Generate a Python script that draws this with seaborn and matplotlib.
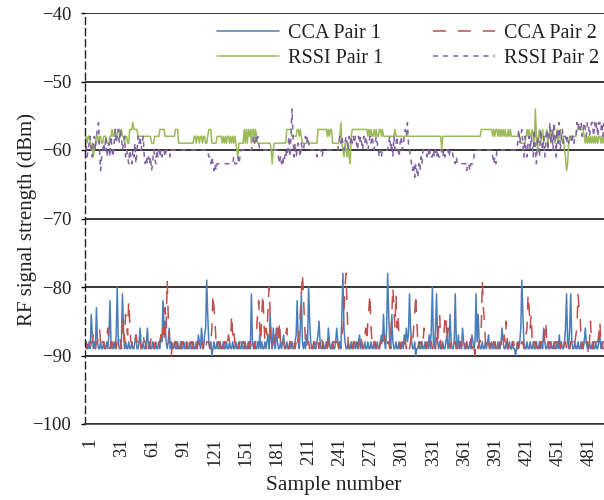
import matplotlib
matplotlib.use("Agg")
import matplotlib.pyplot as plt
import matplotlib.transforms as mtransforms
import numpy as np
import pandas as pd
import seaborn as sns

# ---------------- data (500 samples each) ----------------
cca_pair1 = [
    -89,-88,-89,-89,-88,-89,-84,-87,-89,-88,-89,-83,-88,-89,-89,-88,-89,-89,-88,-89,
    -89,-88,-89,-87,-82,-88,-89,-89,-88,-89,-87,-80,-88,-89,-89,-88,-81,-86,-89,-88,
    -89,-89,-88,-89,-89,-88,-89,-89,-88,-87,-89,-89,-88,-86,-89,-89,-88,-89,-89,-88,
    -86,-89,-88,-89,-89,-88,-89,-89,-88,-89,-89,-88,-89,-87,-88,-82,-86,-85,-88,-89,
    -88,-86,-89,-88,-89,-89,-88,-89,-89,-88,-89,-89,-88,-89,-89,-88,-89,-89,-88,-89,
    -89,-88,-89,-89,-88,-89,-89,-88,-89,-87,-88,-89,-86,-88,-89,-87,-86,-79,-84,-88,
    -89,-88,-90,-89,-88,-89,-89,-88,-89,-89,-88,-89,-89,-88,-89,-89,-88,-89,-89,-88,
    -89,-89,-88,-89,-89,-88,-89,-89,-88,-89,-89,-88,-89,-89,-88,-89,-89,-88,-89,-89,
    -81,-88,-89,-88,-89,-89,-88,-89,-87,-89,-88,-89,-89,-88,-89,-88,-87,-89,-84,-88,
    -89,-86,-88,-89,-86,-88,-89,-89,-88,-89,-88,-87,-89,-89,-88,-89,-89,-88,-89,-88,
    -89,-89,-88,-87,-82,-88,-89,-86,-81,-88,-89,-88,-89,-87,-88,-80,-85,-88,-89,-89,
    -88,-89,-89,-88,-87,-85,-88,-89,-89,-88,-89,-89,-88,-89,-86,-88,-89,-89,-88,-89,
    -89,-88,-86,-88,-89,-88,-89,-84,-78,-86,-88,-89,-89,-88,-89,-89,-88,-89,-89,-88,
    -89,-88,-89,-88,-87,-89,-88,-89,-89,-88,-89,-89,-88,-89,-89,-88,-89,-89,-88,-89,
    -89,-88,-89,-89,-88,-87,-88,-84,-88,-89,-86,-78,-84,-88,-89,-84,-88,-89,-89,-88,
    -89,-89,-88,-89,-89,-88,-89,-87,-88,-86,-88,-87,-81,-86,-88,-89,-89,-88,-90,-89,
    -89,-88,-89,-89,-88,-89,-89,-88,-89,-88,-89,-87,-89,-86,-80,-88,-89,-86,-81,-88,
    -89,-88,-89,-89,-88,-89,-89,-88,-87,-89,-88,-84,-88,-89,-89,-88,-81,-88,-89,-87,
    -89,-88,-89,-86,-88,-89,-89,-88,-89,-89,-88,-89,-87,-88,-89,-88,-81,-88,-84,-88,
    -89,-89,-88,-89,-89,-88,-89,-88,-87,-89,-89,-88,-89,-89,-88,-89,-89,-88,-89,-89,
    -88,-86,-88,-89,-89,-88,-89,-89,-88,-89,-89,-88,-89,-89,-90,-89,-88,-89,-88,-86,
    -79,-84,-88,-89,-89,-88,-89,-89,-88,-89,-89,-88,-89,-89,-88,-89,-89,-88,-89,-88,
    -89,-86,-88,-89,-89,-88,-89,-89,-88,-89,-89,-88,-89,-89,-88,-89,-87,-89,-88,-89,
    -89,-88,-86,-81,-88,-89,-86,-81,-88,-89,-89,-88,-89,-89,-88,-89,-89,-88,-89,-89,
    -88,-86,-88,-89,-89,-88,-89,-89,-88,-89,-89,-88,-89,-89,-88,-87,-89,-88,-89,-89,
]

cca_pair2 = [
    -88,-88,-89,-88,-88,-89,-88,-88,-87,-88,-89,-88,-88,-87,-86,-88,-89,-88,-88,-89,
    -88,-87,-86,-88,-89,-88,-88,-89,-88,-88,-89,-88,-88,-87,-88,-89,-86,-85,-88,-84,
    -86,-87,-82,-85,-88,-88,-89,-88,-88,-87,-88,-89,-88,-88,-89,-88,-87,-88,-88,-89,
    -88,-88,-89,-88,-87,-88,-88,-89,-88,-88,-89,-88,-88,-87,-88,-86,-88,-83,-86,-79,
    -84,-88,-89,-90,-88,-88,-89,-88,-88,-89,-88,-88,-89,-88,-88,-89,-88,-88,-89,-88,
    -88,-89,-88,-88,-89,-88,-88,-89,-88,-88,-89,-88,-88,-89,-88,-88,-89,-88,-88,-88,
    -89,-88,-86,-81,-83,-85,-88,-89,-88,-88,-89,-88,-88,-89,-88,-88,-89,-88,-87,-88,
    -88,-84,-87,-86,-88,-89,-88,-88,-89,-88,-88,-89,-88,-88,-89,-88,-88,-89,-88,-88,
    -89,-88,-88,-89,-88,-86,-84,-82,-86,-88,-84,-81,-85,-88,-86,-87,-83,-80,-84,-88,
    -89,-88,-88,-87,-88,-86,-88,-85,-88,-89,-88,-88,-89,-87,-86,-88,-89,-88,-88,-89,
    -88,-88,-89,-88,-87,-88,-86,-84,-81,-78,-81,-85,-88,-89,-88,-88,-89,-88,-88,-89,
    -88,-88,-89,-88,-88,-89,-88,-87,-88,-89,-88,-88,-89,-88,-88,-89,-88,-88,-89,-88,
    -88,-89,-88,-88,-89,-88,-88,-87,-86,-84,-80,-78,-83,-88,-89,-88,-88,-89,-88,-88,
    -89,-88,-88,-89,-88,-87,-88,-89,-88,-87,-86,-88,-85,-83,-81,-86,-88,-89,-88,-88,
    -89,-88,-88,-89,-88,-88,-89,-88,-87,-88,-89,-88,-88,-89,-87,-84,-80,-83,-86,-81,
    -86,-84,-88,-89,-88,-88,-89,-88,-88,-89,-88,-88,-89,-88,-87,-88,-86,-84,-81,-85,
    -88,-89,-88,-88,-89,-88,-86,-88,-89,-88,-88,-89,-88,-88,-89,-88,-88,-89,-87,-88,
    -86,-84,-88,-89,-88,-87,-85,-84,-88,-86,-88,-89,-88,-88,-89,-88,-88,-89,-88,-88,
    -89,-88,-88,-89,-88,-88,-89,-88,-88,-87,-87,-88,-89,-88,-89,-90,-88,-88,-89,-88,
    -88,-86,-79,-83,-85,-88,-89,-88,-88,-89,-88,-88,-89,-88,-88,-89,-88,-88,-89,-88,
    -88,-89,-88,-87,-88,-85,-88,-89,-88,-88,-89,-88,-88,-89,-88,-88,-89,-88,-88,-89,
    -88,-88,-89,-88,-87,-86,-81,-83,-86,-84,-88,-89,-88,-88,-89,-88,-88,-89,-88,-88,
    -89,-88,-87,-85,-88,-89,-88,-88,-89,-88,-88,-89,-88,-88,-89,-88,-88,-89,-88,-88,
    -89,-88,-88,-89,-88,-88,-89,-88,-88,-89,-88,-88,-87,-86,-81,-83,-84,-88,-89,-88,
    -88,-89,-88,-88,-90,-88,-85,-88,-89,-88,-88,-89,-88,-88,-87,-85,-88,-89,-88,-88,
]

rssi_pair1 = [
    -59,-58,-59,-58,-58,-59,-60,-59,-61,-60,-59,-58,-58,-59,-58,-58,-59,-59,-58,-58,
    -58,-59,-59,-59,-58,-58,-57,-58,-58,-57,-58,-58,-57,-57,-58,-57,-58,-58,-59,-58,
    -58,-59,-59,-57,-57,-57,-56,-57,-57,-57,-57,-58,-58,-58,-58,-58,-58,-58,-58,-58,
    -58,-58,-58,-58,-59,-59,-59,-58,-58,-58,-58,-58,-57,-57,-57,-57,-57,-58,-58,-58,
    -58,-58,-58,-58,-58,-58,-58,-57,-57,-57,-59,-59,-59,-59,-59,-59,-59,-59,-59,-59,
    -59,-59,-59,-59,-59,-58,-58,-59,-58,-58,-59,-58,-58,-59,-58,-58,-59,-59,-58,-57,
    -57,-57,-59,-59,-59,-59,-59,-58,-58,-58,-58,-58,-59,-58,-59,-58,-59,-58,-58,-59,
    -58,-59,-58,-59,-58,-59,-60,-61,-59,-59,-59,-59,-59,-57,-59,-57,-59,-57,-58,-57,
    -59,-57,-57,-59,-57,-58,-59,-59,-59,-59,-59,-59,-59,-59,-59,-59,-59,-59,-59,-60,
    -62,-60,-59,-59,-59,-59,-59,-59,-59,-59,-59,-59,-59,-59,-57,-57,-57,-57,-57,-58,
    -58,-58,-58,-58,-57,-57,-58,-57,-58,-59,-59,-59,-59,-59,-59,-59,-59,-59,-59,-59,
    -59,-59,-59,-59,-57,-57,-57,-57,-57,-57,-57,-57,-57,-58,-57,-58,-57,-57,-59,-59,
    -59,-59,-59,-59,-59,-58,-56,-59,-60,-61,-59,-60,-61,-59,-61,-62,-58,-57,-57,-57,
    -57,-57,-57,-57,-57,-57,-57,-57,-57,-57,-57,-57,-58,-57,-58,-57,-58,-58,-57,-58,
    -57,-58,-58,-57,-57,-58,-57,-58,-58,-58,-58,-58,-58,-58,-58,-58,-58,-58,-57,-58,
    -58,-58,-58,-58,-58,-58,-58,-58,-58,-58,-58,-58,-58,-58,-58,-58,-58,-58,-58,-58,
    -58,-58,-58,-58,-58,-58,-58,-58,-58,-58,-58,-58,-58,-58,-58,-58,-58,-58,-58,-58,
    -58,-58,-58,-60,-58,-58,-58,-58,-58,-58,-58,-58,-58,-58,-58,-58,-58,-58,-58,-58,
    -58,-58,-58,-58,-58,-58,-58,-58,-58,-58,-58,-58,-58,-58,-58,-58,-58,-58,-58,-58,
    -58,-57,-57,-57,-57,-57,-57,-57,-57,-57,-57,-57,-58,-57,-58,-57,-57,-58,-57,-58,
    -57,-58,-57,-58,-57,-58,-58,-57,-58,-57,-58,-58,-58,-58,-58,-58,-58,-58,-58,-59,
    -59,-59,-59,-59,-58,-57,-58,-57,-58,-58,-57,-58,-59,-54,-58,-60,-58,-57,-59,-58,
    -57,-59,-58,-58,-57,-59,-58,-57,-59,-58,-57,-58,-59,-58,-57,-59,-58,-57,-58,-59,
    -58,-60,-61,-63,-62,-59,-58,-58,-58,-58,-58,-58,-58,-57,-57,-57,-57,-57,-57,-57,
    -58,-59,-58,-59,-58,-59,-58,-59,-58,-59,-58,-59,-58,-59,-58,-58,-59,-58,-59,-58,
]

rssi_pair2 = [
    -60,-59,-61,-60,-59,-58,-60,-61,-59,-58,-60,-58,-57,-56,-60,-63,-61,-60,-59,-60,
    -58,-61,-60,-59,-61,-58,-60,-61,-59,-57,-59,-58,-57,-59,-57,-58,-60,-59,-58,-61,
    -60,-61,-62,-60,-61,-62,-60,-61,-59,-62,-60,-58,-59,-58,-60,-59,-58,-61,-62,-61,
    -62,-61,-62,-61,-63,-62,-60,-61,-62,-60,-61,-60,-61,-60,-61,-60,-60,-61,-60,-60,
    -60,-60,-61,-60,-60,-60,-60,-60,-60,-60,-60,-60,-60,-60,-60,-60,-60,-60,-60,-60,
    -60,-60,-60,-60,-60,-60,-60,-60,-60,-60,-60,-60,-60,-60,-60,-60,-60,-60,-60,-61,
    -61,-62,-61,-62,-63,-62,-63,-62,-62,-62,-62,-62,-62,-62,-62,-62,-62,-62,-62,-62,
    -62,-62,-62,-61,-62,-62,-62,-61,-62,-61,-60,-60,-60,-60,-60,-60,-60,-60,-60,-60,
    -60,-59,-58,-59,-58,-59,-58,-59,-60,-60,-60,-60,-60,-60,-60,-60,-60,-60,-60,-60,
    -60,-60,-60,-60,-60,-60,-61,-62,-61,-62,-61,-62,-61,-60,-61,-60,-58,-61,-58,-54,
    -58,-61,-59,-61,-60,-59,-60,-61,-59,-60,-60,-59,-58,-59,-58,-59,-60,-60,-60,-60,
    -60,-60,-60,-61,-60,-60,-60,-60,-61,-60,-60,-60,-60,-60,-60,-60,-60,-60,-60,-60,
    -60,-60,-60,-60,-59,-58,-59,-58,-59,-60,-59,-58,-59,-60,-58,-59,-58,-59,-58,-59,
    -58,-59,-60,-58,-59,-58,-59,-60,-58,-59,-58,-59,-60,-59,-58,-59,-58,-59,-60,-59,
    -58,-59,-60,-61,-60,-61,-60,-60,-60,-60,-60,-60,-59,-58,-60,-59,-61,-58,-60,-59,
    -58,-60,-61,-59,-58,-60,-59,-58,-57,-58,-56,-59,-60,-61,-62,-63,-62,-64,-62,-63,
    -64,-62,-63,-61,-62,-60,-60,-60,-60,-61,-60,-61,-60,-61,-61,-60,-61,-60,-61,-60,
    -61,-61,-60,-60,-61,-60,-61,-60,-60,-60,-61,-60,-60,-60,-61,-61,-62,-61,-62,-62,
    -62,-62,-62,-62,-62,-62,-62,-63,-62,-62,-63,-62,-62,-62,-61,-60,-60,-60,-60,-60,
    -60,-60,-60,-60,-60,-60,-60,-60,-60,-60,-60,-60,-61,-62,-61,-62,-60,-60,-60,-60,
    -60,-60,-60,-60,-60,-60,-60,-60,-60,-60,-60,-60,-60,-60,-60,-60,-59,-57,-59,-58,
    -57,-59,-61,-58,-60,-61,-59,-58,-60,-58,-59,-61,-57,-60,-62,-58,-59,-61,-57,-59,
    -60,-58,-61,-59,-57,-60,-58,-56,-59,-57,-60,-56,-58,-61,-57,-59,-56,-60,-58,-57,
    -59,-58,-58,-59,-58,-59,-58,-58,-59,-58,-59,-58,-58,-56,-57,-56,-57,-56,-58,-57,
    -56,-57,-58,-56,-56,-58,-57,-56,-56,-58,-56,-57,-56,-58,-56,-56,-57,-56,-58,-56,
]

series_names = ["CCA Pair 1", "CCA Pair 2", "RSSI Pair 1", "RSSI Pair 2"]
y_ticks = [-100, -90, -80, -70, -60, -50, -40]
x_ticks = list(range(1, 500, 30))

# ---------------- build long table ----------------
samples = np.arange(1, len(cca_pair1) + 1)
frames = []
for name, vals in zip(series_names, [cca_pair1, cca_pair2, rssi_pair1, rssi_pair2]):
    frames.append(pd.DataFrame({"Sample": samples[:len(vals)], "dBm": vals, "Series": name}))
df = pd.concat(frames, ignore_index=True)

# ---------------- style ----------------
sns.set_theme(style="white")
plt.rcParams["font.family"] = ["Liberation Serif", "DejaVu Serif"]
plt.rcParams["axes.unicode_minus"] = True

palette = {"CCA Pair 1": "#4A7EBB", "CCA Pair 2": "#C0504D",
           "RSSI Pair 1": "#9BBB59", "RSSI Pair 2": "#8064A2"}
dashes = {"CCA Pair 1": "", "CCA Pair 2": (8.5, 7.8),
          "RSSI Pair 1": "", "RSSI Pair 2": (3.3, 3.3)}

fig = plt.figure(figsize=(6.04, 5.00), dpi=100)
ax = fig.add_axes([85 / 604, 76 / 500, 519 / 604, 411 / 500])

sns.lineplot(data=df, x="Sample", y="dBm", hue="Series", style="Series",
             hue_order=series_names, style_order=series_names,
             palette=palette, dashes=dashes, linewidth=1.1, ax=ax,
             legend=True, estimator=None)

ax.set_xlim(1, 500)
ax.set_ylim(-100, -40)
ax.set_yticks(y_ticks)
ax.set_xticks(x_ticks)
ax.set_xticklabels([str(t) for t in x_ticks], rotation=90)

ax.set_axisbelow(True)
ax.yaxis.grid(True, color="black", linewidth=1.1)
ax.xaxis.grid(False)

for s in ["top", "right"]:
    ax.spines[s].set_visible(False)
ax.spines["bottom"].set_color("#333333")
ax.spines["bottom"].set_linewidth(1.1)
ax.spines["left"].set_color("#222222")
ax.spines["left"].set_linewidth(1.0)
ax.spines["left"].set_linestyle((0, (5, 3)))

ax.tick_params(axis="y", which="major", left=True, length=3, width=1.0,
               color="black", pad=7, labelsize=13.5, labelcolor="#222222")
ax.tick_params(axis="x", which="major", bottom=False, length=0, pad=10,
               labelsize=13.5, labelcolor="#222222")

offset = mtransforms.ScaledTranslation(5 / 100, 0, fig.dpi_scale_trans)
for lab in ax.get_xticklabels():
    lab.set_transform(lab.get_transform() + offset)

ax.set_xlabel("Sample number", fontsize=15.5, color="#222222")
ax.set_ylabel("RF signal strength (dBm)", fontsize=15, color="#222222")
ax.xaxis.set_label_coords((334 - 85) / 519, (424 - 476) / 411)
ax.yaxis.set_label_coords((37 - 85) / 519, (424 - 220) / 411)

handles, labels = ax.get_legend_handles_labels()
hmap = dict(zip(labels, handles))
order = ["CCA Pair 1", "RSSI Pair 1", "CCA Pair 2", "RSSI Pair 2"]
ax.legend([hmap[k] for k in order], order, ncol=2, frameon=False,
          loc="upper left", bbox_to_anchor=(217 / 604, 1 - 24 / 500),
          bbox_transform=fig.transFigure, borderpad=0, borderaxespad=0,
          fontsize=14.5, handlelength=3.1, handletextpad=0.45,
          columnspacing=2.45, labelspacing=0.3, labelcolor="#222222")

fig.savefig("out.png", dpi=100)
